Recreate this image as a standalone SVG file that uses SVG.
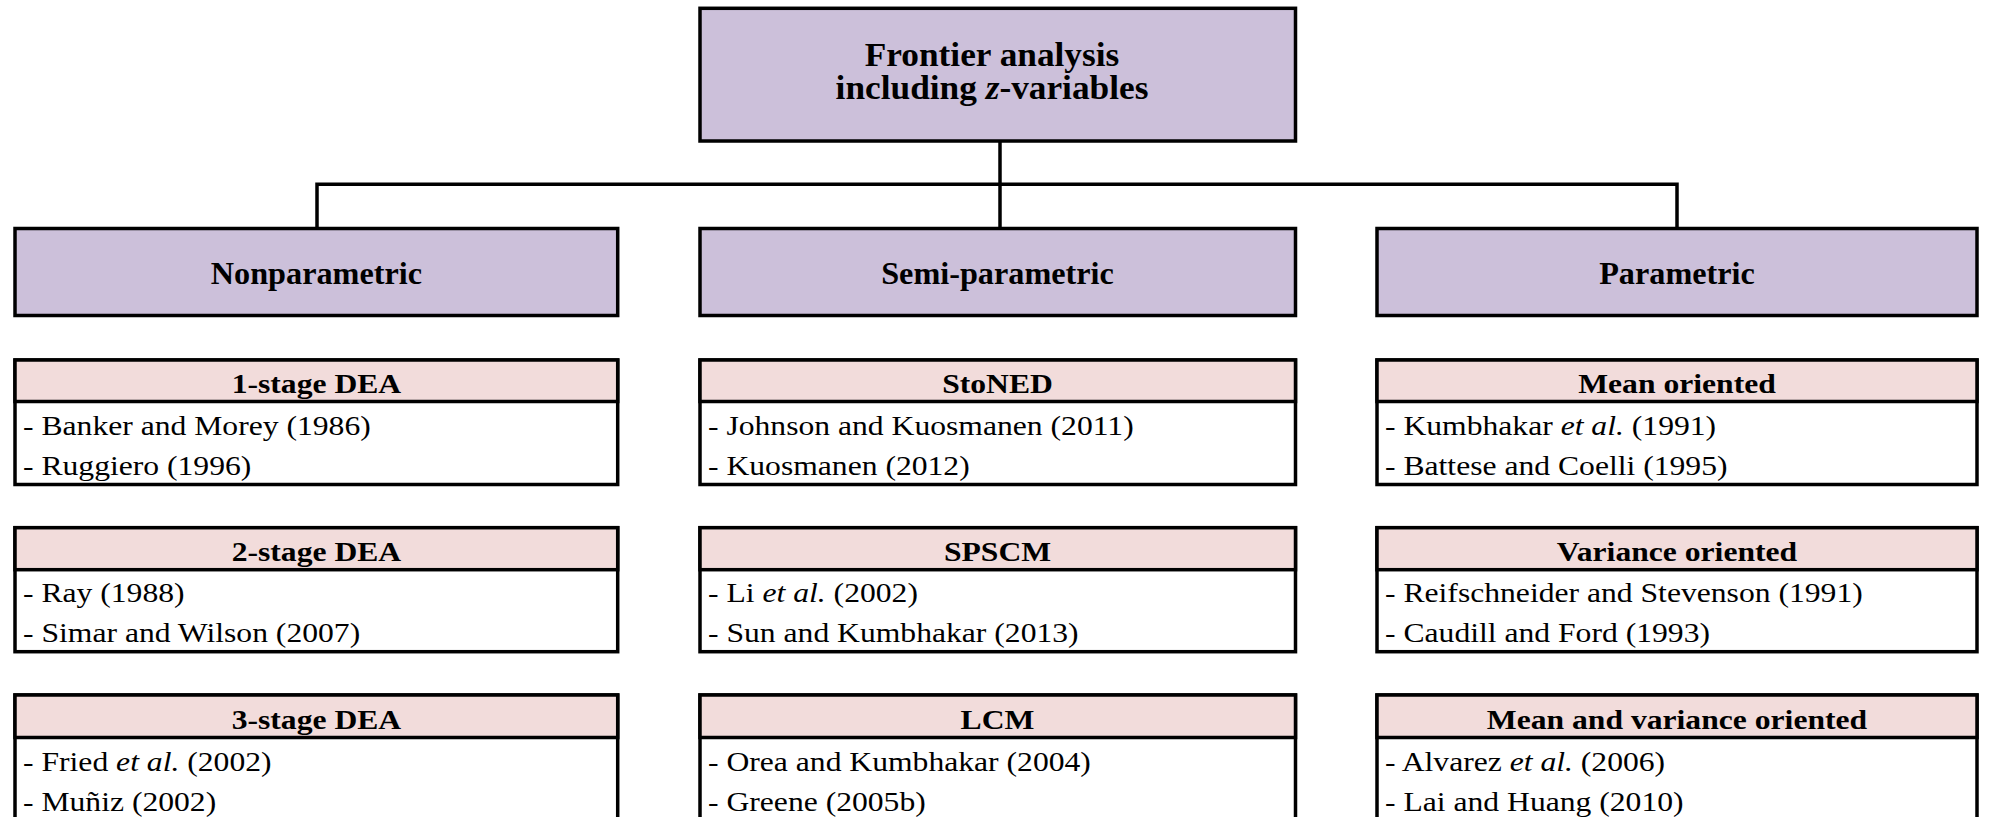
<svg xmlns="http://www.w3.org/2000/svg" width="1989" height="817" viewBox="0 0 1989 817" font-family="'Liberation Serif', 'Times New Roman', serif">
<style>
.box{stroke:#000;stroke-width:3.5}
.cat{fill:#CCC0DA}
.hdr{fill:#F2DCDB}
.body{fill:#FFFFFF}
.conn{fill:none;stroke:#000;stroke-width:3.5}
text{font-family:'Liberation Serif', 'Times New Roman', serif;fill:#000}
.t{font-size:33px;font-weight:bold;text-anchor:middle}
.c{font-size:31px;font-weight:bold;text-anchor:middle}
.h{font-size:28px;font-weight:bold;text-anchor:middle}
.l{font-size:28px}
.i{font-style:italic}
</style>
<rect width="1989" height="817" fill="#FFFFFF"/>
<g id="connectors">
<path class="conn" d="M1000,141 V228.5"/>
<path class="conn" d="M317,228.5 V184.3 H1677 V228.5"/>
</g>
<g id="root">
<rect class="box cat" x="700" y="8.3" width="595.5" height="132.7"/>
<text class="t" transform="translate(992,66) scale(1.07,1)">Frontier analysis</text>
<text class="t" transform="translate(992,99) scale(1.07,1)">including <tspan class="i">z</tspan>-variables</text>
</g>
<g id="nonparametric">
<rect class="box cat" x="15" y="228.5" width="602.7" height="87"/>
<text class="c" transform="translate(316.4,284) scale(1.04,1)">Nonparametric</text>
</g>
<g id="semiparametric">
<rect class="box cat" x="700" y="228.5" width="595.5" height="87"/>
<text class="c" transform="translate(997.5,284) scale(1.04,1)">Semi-parametric</text>
</g>
<g id="parametric">
<rect class="box cat" x="1377" y="228.5" width="600" height="87"/>
<text class="c" transform="translate(1677,284) scale(1.04,1)">Parametric</text>
</g>

<g id="dea1">
<rect class="box body" x="15" y="360" width="602.7" height="124.5"/>
<rect class="box hdr" x="15" y="360" width="602.7" height="41.5"/>
<text class="h" transform="translate(316.4,393) scale(1.13,1)">1-stage DEA</text>
<text class="l" transform="translate(23,435) scale(1.13,1)">- Banker and Morey (1986)</text>
<text class="l" transform="translate(23,475) scale(1.13,1)">- Ruggiero (1996)</text>
</g>
<g id="dea2">
<rect class="box body" x="15" y="527.7" width="602.7" height="124"/>
<rect class="box hdr" x="15" y="527.7" width="602.7" height="42"/>
<text class="h" transform="translate(316.4,561) scale(1.13,1)">2-stage DEA</text>
<text class="l" transform="translate(23,602) scale(1.13,1)">- Ray (1988)</text>
<text class="l" transform="translate(23,642) scale(1.13,1)">- Simar and Wilson (2007)</text>
</g>
<g id="dea3">
<rect class="box body" x="15" y="695" width="602.7" height="125"/>
<rect class="box hdr" x="15" y="695" width="602.7" height="42.5"/>
<text class="h" transform="translate(316.4,729) scale(1.13,1)">3-stage DEA</text>
<text class="l" transform="translate(23,771) scale(1.13,1)">- Fried <tspan class="i">et al.</tspan> (2002)</text>
<text class="l" transform="translate(23,811) scale(1.13,1)">- Muñiz (2002)</text>
</g>

<g id="stoned">
<rect class="box body" x="700" y="360" width="595.5" height="124.5"/>
<rect class="box hdr" x="700" y="360" width="595.5" height="41.5"/>
<text class="h" transform="translate(997.5,393) scale(1.13,1)">StoNED</text>
<text class="l" transform="translate(708,435) scale(1.13,1)">- Johnson and Kuosmanen (2011)</text>
<text class="l" transform="translate(708,475) scale(1.13,1)">- Kuosmanen (2012)</text>
</g>
<g id="spscm">
<rect class="box body" x="700" y="527.7" width="595.5" height="124"/>
<rect class="box hdr" x="700" y="527.7" width="595.5" height="42"/>
<text class="h" transform="translate(997.5,561) scale(1.13,1)">SPSCM</text>
<text class="l" transform="translate(708,602) scale(1.13,1)">- Li <tspan class="i">et al.</tspan> (2002)</text>
<text class="l" transform="translate(708,642) scale(1.13,1)">- Sun and Kumbhakar (2013)</text>
</g>
<g id="lcm">
<rect class="box body" x="700" y="695" width="595.5" height="125"/>
<rect class="box hdr" x="700" y="695" width="595.5" height="42.5"/>
<text class="h" transform="translate(997.5,729) scale(1.13,1)">LCM</text>
<text class="l" transform="translate(708,771) scale(1.13,1)">- Orea and Kumbhakar (2004)</text>
<text class="l" transform="translate(708,811) scale(1.13,1)">- Greene (2005b)</text>
</g>

<g id="mean">
<rect class="box body" x="1377" y="360" width="600" height="124.5"/>
<rect class="box hdr" x="1377" y="360" width="600" height="41.5"/>
<text class="h" transform="translate(1677,393) scale(1.13,1)">Mean oriented</text>
<text class="l" transform="translate(1385,435) scale(1.13,1)">- Kumbhakar <tspan class="i">et al.</tspan> (1991)</text>
<text class="l" transform="translate(1385,475) scale(1.13,1)">- Battese and Coelli (1995)</text>
</g>
<g id="variance">
<rect class="box body" x="1377" y="527.7" width="600" height="124"/>
<rect class="box hdr" x="1377" y="527.7" width="600" height="42"/>
<text class="h" transform="translate(1677,561) scale(1.13,1)">Variance oriented</text>
<text class="l" transform="translate(1385,602) scale(1.13,1)">- Reifschneider and Stevenson (1991)</text>
<text class="l" transform="translate(1385,642) scale(1.13,1)">- Caudill and Ford (1993)</text>
</g>
<g id="meanvar">
<rect class="box body" x="1377" y="695" width="600" height="125"/>
<rect class="box hdr" x="1377" y="695" width="600" height="42.5"/>
<text class="h" transform="translate(1677,729) scale(1.13,1)">Mean and variance oriented</text>
<text class="l" transform="translate(1385,771) scale(1.13,1)">- Alvarez <tspan class="i">et al.</tspan> (2006)</text>
<text class="l" transform="translate(1385,811) scale(1.13,1)">- Lai and Huang (2010)</text>
</g>
</svg>
